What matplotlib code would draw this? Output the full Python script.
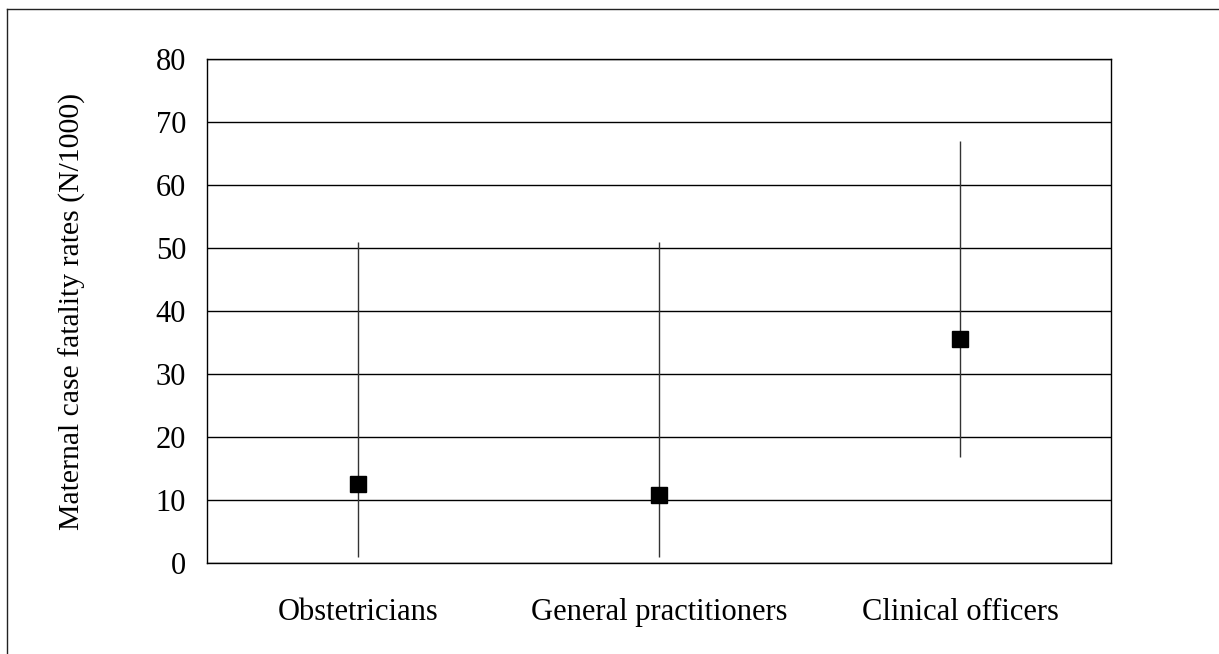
import matplotlib
matplotlib.use("Agg")
import matplotlib.pyplot as plt
from matplotlib.lines import Line2D

categories = ["Obstetricians", "General practitioners", "Clinical officers"]
rates = [12.6, 10.8, 35.6]
lower = [1.0, 1.0, 16.8]
upper = [51.0, 51.0, 67.0]
yticks = [0, 10, 20, 30, 40, 50, 60, 70, 80]

plt.rcParams['font.family'] = ['Liberation Serif', 'DejaVu Serif']

W, H = 1219, 654
fig = plt.figure(figsize=(W / 100, H / 100), dpi=100)
ax = fig.add_axes([207 / W, 1 - 563 / H, (1111 - 207) / W, (563 - 59) / H])

xs = [i + 0.5 for i in range(len(categories))]
for x, lo, hi in zip(xs, lower, upper):
    ax.vlines(x, lo, hi, color="#333333", linewidth=1.0, zorder=3)
ax.plot(xs, rates, linestyle="none", marker="s", markersize=11,
        color="black", zorder=4)

ax.set_xlim(0, 3)
ax.set_ylim(0, 80)
ax.set_yticks(yticks)
ax.set_yticklabels([str(v) for v in yticks])
ax.set_xticks(xs)
ax.set_xticklabels(categories)
ax.tick_params(axis="both", length=0, labelsize=22)
ax.tick_params(axis="y", pad=15)
ax.tick_params(axis="x", pad=25)
ax.grid(axis="y", color="black", linewidth=1.0)
ax.set_axisbelow(True)
for s in ax.spines.values():
    s.set_linewidth(1.0)
    s.set_color("black")

ax.set_ylabel("Maternal case fatality rates (N/1000)", fontsize=21.4)
ax.yaxis.set_label_coords((86 - 207) / (1111 - 207), 0.5)

# figure frame lines (left and top)
fig.add_artist(Line2D([7 / W, 7 / W], [0, 1 - 9 / H], transform=fig.transFigure,
                      color="#222222", linewidth=1.0))
fig.add_artist(Line2D([7 / W, 1], [1 - 9 / H, 1 - 9 / H], transform=fig.transFigure,
                      color="#222222", linewidth=1.0))

fig.savefig("out.png", dpi=100)
